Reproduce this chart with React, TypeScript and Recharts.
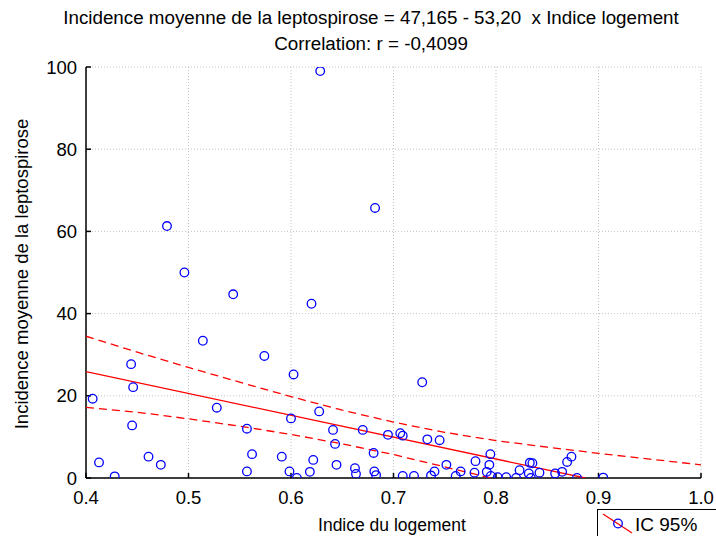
import React from 'react';
import { ScatterChart, Scatter, XAxis, YAxis, CartesianGrid } from 'recharts';

const pointX = [
  0.479, 0.6285, 0.682, 0.496, 0.5436, 0.514, 0.574, 0.444, 0.6025, 0.446,
  0.4065, 0.5276, 0.445, 0.600, 0.557, 0.4127, 0.461, 0.473, 0.428, 0.562,
  0.591, 0.557, 0.5985, 0.6057, 0.620, 0.728, 0.6275, 0.641, 0.670, 0.643,
  0.6946, 0.7066, 0.709, 0.733, 0.745, 0.6806, 0.6217, 0.6444, 0.6184, 0.6624,
  0.6634, 0.6813, 0.683, 0.709, 0.720, 0.7366, 0.740, 0.7516, 0.7607, 0.7655,
  0.780, 0.779, 0.7945, 0.7935, 0.791, 0.795, 0.8017, 0.810, 0.8196, 0.823,
  0.832, 0.833, 0.8355, 0.8424, 0.8577, 0.8645, 0.8694, 0.8736, 0.879, 0.9046,
  0.834,
];
const pointY = [
  61.3, 99.0, 65.7, 50.0, 44.7, 33.4, 29.7, 27.7, 25.2, 22.1,
  19.3, 17.1, 12.8, 14.5, 12.0, 3.8, 5.2, 3.2, 0.4, 5.8,
  5.2, 1.6, 1.6, 0.0, 42.4, 23.3, 16.2, 11.7, 11.7, 8.3,
  10.5, 10.9, 10.3, 9.4, 9.2, 6.1, 4.4, 3.2, 1.5, 2.4,
  1.0, 1.6, 0.7, 0.5, 0.5, 0.6, 1.6, 3.2, 0.5, 1.6,
  4.1, 1.3, 5.8, 3.2, 1.5, 0.5, 0.2, 0.2, 0.0, 1.9,
  1.1, 3.7, 3.6, 1.3, 1.1, 1.5, 3.9, 5.2, 0.0, 0.1,
  0.0,
];

const fitX = [0.4, 0.887];
const fitY = [25.9, 0];

const upperX = [0.4, 0.45, 0.5, 0.55, 0.6, 0.65, 0.7, 0.75, 0.8, 0.85, 0.9, 0.95, 1.0];
const upperY = [34.5, 30.6, 26.9, 23.3, 19.8, 16.5, 13.6, 11.1, 9.1, 7.5, 6.0, 4.6, 3.2];

const lowerX = [0.4, 0.45, 0.5, 0.55, 0.6, 0.65, 0.7, 0.75, 0.795];
const lowerY = [17.2, 16.0, 14.4, 12.6, 10.6, 8.3, 5.7, 2.7, 0];

const xTicks = [0.4, 0.5, 0.6, 0.7, 0.8, 0.9, 1.0];
const yTicks = [0, 20, 40, 60, 80, 100];

const titleLine1 = 'Incidence moyenne de la leptospirose = 47,165 - 53,20  x Indice logement';
const titleLine2 = 'Correlation: r = -0,4099';
const xLabel = 'Indice du logement';
const yLabel = 'Incidence moyenne de la leptospirose';
const legendLabel = 'IC 95%';

const FONT = '"Liberation Sans", Arial, sans-serif';

const zip = (xs: number[], ys: number[]) => xs.map((x, i) => ({ x, y: ys[i] }));
const points = zip(pointX, pointY);
const fit = zip(fitX, fitY);
const upper = zip(upperX, upperY);
const lower = zip(lowerX, lowerY);

const Dot = (props: any) => (
  <circle cx={props.cx} cy={props.cy} r={4.3} fill="none" stroke="#0000ff" strokeWidth={1.3} />
);
const NoDot = () => <g />;

export default function App() {
  return (
    <div style={{ position: 'absolute', left: 0, top: 0, width: 716, height: 536, background: '#fff', overflow: 'hidden' }}>
      <ScatterChart
        width={716}
        height={536}
        margin={{ top: 67, right: 15, bottom: 28, left: 46 }}
      >
        <CartesianGrid xAxisId="b" yAxisId="l" stroke="#c4c4c4" strokeDasharray="1 2" />
        <XAxis
          xAxisId="b"
          type="number"
          dataKey="x"
          domain={[0.4, 1.0]}
          ticks={xTicks}
          allowDataOverflow
          tickFormatter={(v: number) => v.toFixed(1)}
          tickSize={-5}
          tickMargin={18}
          height={30}
          axisLine={{ stroke: '#000', strokeWidth: 1.5 }}
          tickLine={{ stroke: '#000', strokeWidth: 1.5 }}
          tick={{ fill: '#000', fontSize: 18.5, fontFamily: FONT }}
        />
        <XAxis
          xAxisId="t"
          orientation="top"
          type="number"
          dataKey="x"
          domain={[0.4, 1.0]}
          ticks={xTicks}
          allowDataOverflow
          tickSize={-5}
          height={0}
          tick={false}
          axisLine={{ stroke: '#555', strokeWidth: 2 }}
          tickLine={{ stroke: '#000', strokeWidth: 1.5 }}
        />
        <YAxis
          yAxisId="l"
          type="number"
          dataKey="y"
          domain={[0, 100]}
          ticks={yTicks}
          allowDataOverflow
          tickSize={-5}
          tickMargin={14}
          width={40}
          axisLine={{ stroke: '#000', strokeWidth: 1.5 }}
          tickLine={{ stroke: '#000', strokeWidth: 1.5 }}
          tick={{ fill: '#000', fontSize: 18.5, fontFamily: FONT }}
        />
        <YAxis
          yAxisId="r"
          orientation="right"
          type="number"
          dataKey="y"
          domain={[0, 100]}
          ticks={yTicks}
          allowDataOverflow
          tickSize={-5}
          width={0}
          tick={false}
          axisLine={{ stroke: '#222', strokeWidth: 1.5 }}
          tickLine={{ stroke: '#000', strokeWidth: 1.5 }}
        />
        <Scatter
          xAxisId="b"
          yAxisId="l"
          data={upper}
          line={{ stroke: '#ff0000', strokeWidth: 1.3, strokeDasharray: '8 5' }}
          lineType="joint"
          shape={NoDot}
          isAnimationActive={false}
        />
        <Scatter
          xAxisId="b"
          yAxisId="l"
          data={lower}
          line={{ stroke: '#ff0000', strokeWidth: 1.3, strokeDasharray: '8 5' }}
          lineType="joint"
          shape={NoDot}
          isAnimationActive={false}
        />
        <Scatter
          xAxisId="b"
          yAxisId="l"
          data={fit}
          line={{ stroke: '#ff0000', strokeWidth: 1.3 }}
          lineType="joint"
          shape={NoDot}
          isAnimationActive={false}
        />
        <Scatter
          xAxisId="b"
          yAxisId="l"
          data={points}
          shape={Dot}
          isAnimationActive={false}
        />
      </ScatterChart>
      <svg
        width={716}
        height={536}
        style={{ position: 'absolute', left: 0, top: 0, pointerEvents: 'none' }}
      >
        <text x={371} y={24} textAnchor="middle" fontFamily={FONT} fontSize={18.8} fill="#000" xmlSpace="preserve" style={{ whiteSpace: 'pre' }}>
          {titleLine1}
        </text>
        <text x={371} y={50} textAnchor="middle" fontFamily={FONT} fontSize={18.8} fill="#000">
          {titleLine2}
        </text>
        <text x={392} y={531} textAnchor="middle" fontFamily={FONT} fontSize={17.5} fill="#000">
          {xLabel}
        </text>
        <text
          x={28}
          y={274}
          textAnchor="middle"
          fontFamily={FONT}
          fontSize={18.5}
          fill="#000"
          transform="rotate(-90, 28, 274)"
        >
          {yLabel}
        </text>
        <rect x={597.5} y={509.5} width={130} height={40} fill="#fff" stroke="#000" strokeWidth={1} />
        <line x1={603} y1={514} x2={632} y2={533} stroke="#ff0000" strokeWidth={1.3} />
        <circle cx={618} cy={523.5} r={4.3} fill="none" stroke="#0000ff" strokeWidth={1.3} />
        <text x={635} y={531} fontFamily={FONT} fontSize={19} fill="#000">
          {legendLabel}
        </text>
      </svg>
    </div>
  );
}
